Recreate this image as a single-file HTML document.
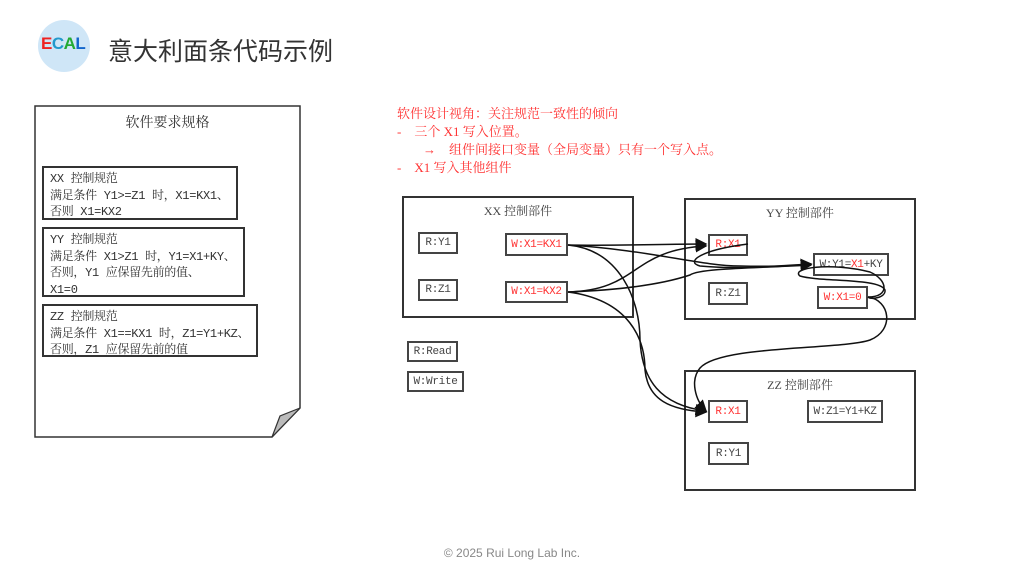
<!DOCTYPE html>
<html><head><meta charset="utf-8"><style>
body{margin:0;width:1024px;height:576px;background:#fff;position:relative;overflow:hidden;font-family:"Liberation Serif","Noto Serif CJK SC",serif;}
.a{position:absolute;white-space:nowrap}
.b{position:absolute;border:2px solid #333;box-sizing:border-box;background:#fff}
.s{position:absolute;border:2px solid #444;box-sizing:border-box;background:#fff;font-size:11px;color:#444;display:flex;align-items:center;justify-content:center;white-space:nowrap;font-family:"Liberation Mono","Noto Serif CJK SC",monospace;letter-spacing:-0.3px}
.r{color:#f33}
.t{font-size:12px;color:#333;line-height:16.5px;padding:3px 0 0 6px;font-family:"Liberation Mono","Noto Serif CJK SC",monospace;letter-spacing:-0.3px}
</style></head><body>
<div class="a" style="left:38px;top:20px;width:52px;height:52px;border-radius:50%;background:#cfe6f7"></div>
<div class="a" style="left:41px;top:34px;font:bold 17px 'Liberation Sans',sans-serif;letter-spacing:-0.5px"><span style="color:#e22">E</span><span style="color:#29c">C</span><span style="color:#2a3">A</span><span style="color:#16c">L</span></div>
<div class="a" style="left:108px;top:32px;font-size:25px;color:#333;font-family:'Noto Sans CJK SC',sans-serif">意大利面条代码示例</div>

<svg class="a" style="left:0;top:0" width="1024" height="576">
<path d="M35 106 H300 V408 L272 437 H35 Z" fill="#fff" stroke="#333" stroke-width="1.5"/>
<path d="M272 437 L280 416 L300 408 Z" fill="#bbb" stroke="#333" stroke-width="1.2"/>
</svg>
<div class="a" style="left:35px;top:112px;width:265px;text-align:center;font-size:14px;color:#333">软件要求规格</div>
<div class="b t" style="left:42px;top:166px;width:196px;height:54px">XX 控制规范<br>满足条件 Y1&gt;=Z1 时，X1=KX1、<br>否则 X1=KX2</div>
<div class="b t" style="left:42px;top:227px;width:203px;height:70px">YY 控制规范<br>满足条件 X1&gt;Z1 时，Y1=X1+KY、<br>否则，Y1 应保留先前的值、<br>X1=0</div>
<div class="b t" style="left:42px;top:304px;width:216px;height:53px">ZZ 控制规范<br>满足条件 X1==KX1 时，Z1=Y1+KZ、<br>否则，Z1 应保留先前的值</div>

<div class="a r" style="left:397px;top:105px;font-size:13px;line-height:18px">软件设计视角：关注规范一致性的倾向<br>-&nbsp;&nbsp;&nbsp; 三个 X1 写入位置。<br>&nbsp;&nbsp;&nbsp;&nbsp;&nbsp;&nbsp;&nbsp;&nbsp;→&nbsp;&nbsp;&nbsp; 组件间接口变量（全局变量）只有一个写入点。<br>-&nbsp;&nbsp;&nbsp; X1 写入其他组件</div>

<div class="b" style="left:402px;top:196px;width:232px;height:122px"></div>
<div class="a" style="left:402px;top:202px;width:232px;text-align:center;font-size:12px;color:#444">XX 控制部件</div>
<div class="b" style="left:684px;top:198px;width:232px;height:122px"></div>
<div class="a" style="left:684px;top:204px;width:232px;text-align:center;font-size:12px;color:#444">YY 控制部件</div>
<div class="b" style="left:684px;top:370px;width:232px;height:121px"></div>
<div class="a" style="left:684px;top:376px;width:232px;text-align:center;font-size:12px;color:#444">ZZ 控制部件</div>

<div class="s" style="left:418px;top:232px;width:40px;height:22px">R:Y1</div>
<div class="s r" style="left:505px;top:233px;width:63px;height:23px">W:X1=KX1</div>
<div class="s" style="left:418px;top:279px;width:40px;height:22px">R:Z1</div>
<div class="s r" style="left:505px;top:281px;width:63px;height:22px">W:X1=KX2</div>
<div class="s r" style="left:708px;top:234px;width:40px;height:22px">R:X1</div>
<div class="s" style="left:813px;top:253px;width:76px;height:23px">W:Y1=<span class="r">X1</span>+KY</div>
<div class="s" style="left:708px;top:282px;width:40px;height:23px">R:Z1</div>
<div class="s r" style="left:817px;top:286px;width:51px;height:23px">W:X1=0</div>
<div class="s r" style="left:708px;top:400px;width:40px;height:23px">R:X1</div>
<div class="s" style="left:807px;top:400px;width:76px;height:23px">W:Z1=Y1+KZ</div>
<div class="s" style="left:708px;top:442px;width:41px;height:23px">R:Y1</div>
<div class="s" style="left:407px;top:341px;width:51px;height:21px">R:Read</div>
<div class="s" style="left:407px;top:371px;width:57px;height:21px">W:Write</div>

<svg class="a" style="left:0;top:0" width="1024" height="576" fill="none" stroke="#111" stroke-width="1.5">
<defs><marker id="m" markerWidth="8" markerHeight="8" refX="7" refY="4" orient="auto"><path d="M0 0 L8 4 L0 8 Z" fill="#111" stroke="none"/></marker></defs>
<path d="M568 245 C620 246 660 244 706 244" marker-end="url(#m)"/>
<path d="M568 245 C650 250 700 266 740 266 C780 267 790 265 811 264" marker-end="url(#m)"/>
<path d="M568 245 C620 250 640 300 640 340 C642 380 660 405 706 411" marker-end="url(#m)"/>
<path d="M568 292 C640 290 630 250 706 246" marker-end="url(#m)"/>
<path d="M568 292 C620 290 660 285 690 275 C700 268 760 268 811 265" marker-end="url(#m)"/>
<path d="M568 292 C630 300 645 340 645 370 C648 400 670 410 706 412" marker-end="url(#m)"/>
<path d="M868 297 C890 297 888 280 870 272 C830 262 790 268 800 276 C820 282 880 278 885 290 C886 298 870 300 868 297"/>
<path d="M868 297 C890 300 895 330 870 340 C840 350 720 345 700 368 C690 380 695 400 706 411" marker-end="url(#m)"/>
<path d="M748 244 C700 250 685 262 700 266 C740 270 790 265 811 265"/>
</svg>

<div class="a" style="left:0;top:546px;width:1024px;text-align:center;font:12px 'Liberation Sans',sans-serif;color:#888">© 2025 Rui Long Lab Inc.</div>
</body></html>
